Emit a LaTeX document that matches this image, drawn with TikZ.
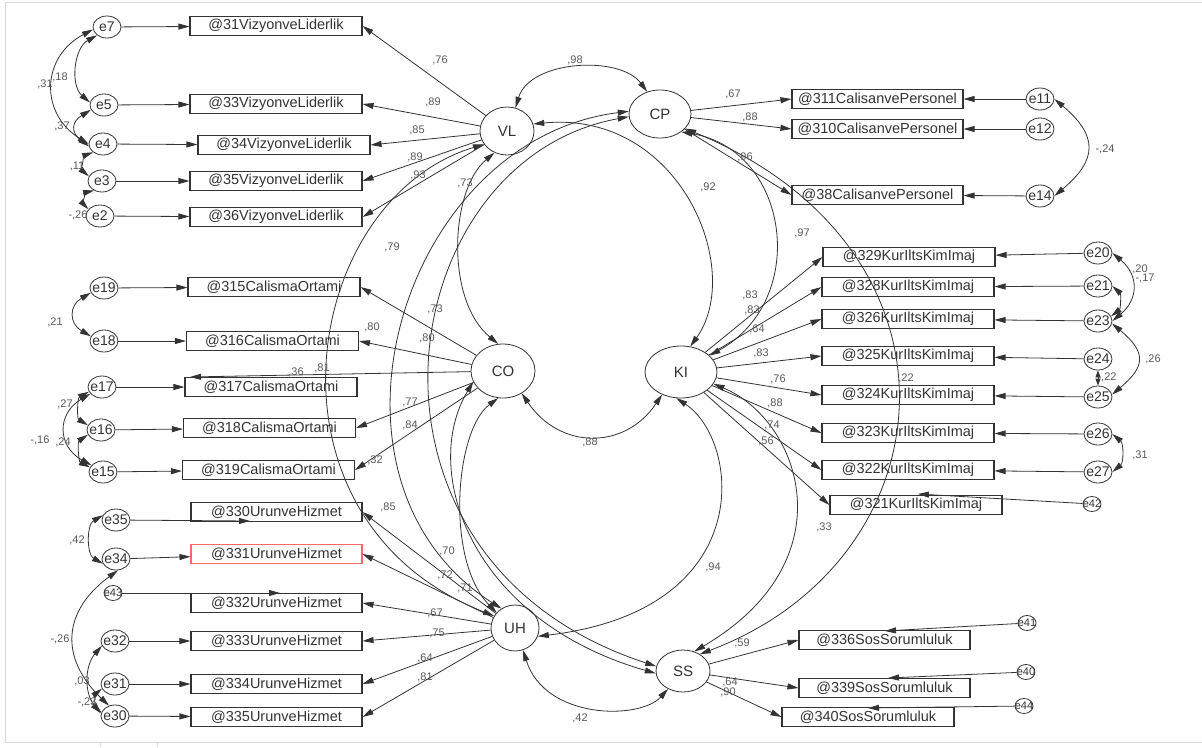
\documentclass[tikz,border=0pt]{standalone}
\usepackage{fontspec}
\setmainfont{Liberation Sans}
\usetikzlibrary{shapes.geometric,arrows.meta}

\begin{document}
\begin{tikzpicture}[x=1pt,y=-1pt,line width=0.8pt,color=black!80,
  tip/.style={-{Triangle[length=11pt,width=6pt]}},
  both/.style={{Triangle[length=11pt,width=6pt]}-{Triangle[length=11pt,width=6pt]}},
  lat/.style={ellipse,draw,inner sep=0pt,font=\fontsize{15}{15}\selectfont},
  obs/.style={draw,line width=1.1pt,minimum width=172pt,minimum height=19pt,inner sep=0pt,font=\fontsize{14.5}{15}\selectfont},
  err/.style={ellipse,draw,minimum width=28pt,minimum height=22pt,inner sep=0pt,label={[font=\fontsize{14}{14}\selectfont]center:#1}},
  serr/.style={ellipse,draw,minimum width=18pt,minimum height=15pt,inner sep=0pt,label={[font=\fontsize{11}{11}\selectfont]center:#1}},
  coef/.style={font=\fontsize{11}{11}\selectfont,text=black!65,inner sep=0pt}]
  \useasboundingbox (0,0) rectangle (1202,747);
  \draw[black!15,line width=1pt] (1202,2) -- (5,2) -- (5,742) -- (1202,742);
  \draw[black!15,line width=1pt] (100,742) -- (100,747) (157,742) -- (157,747);

  \node[lat,minimum width=54pt,minimum height=48pt] (VL) at (507,131) {VL};
  \node[lat,minimum width=62pt,minimum height=48pt] (CP) at (660,114) {CP};
  \node[lat,minimum width=64pt,minimum height=54pt] (CO) at (503,371) {CO};
  \node[lat,minimum width=72pt,minimum height=52pt] (KI) at (681,372) {KI};
  \node[lat,minimum width=48pt,minimum height=46pt] (UH) at (515,628) {UH};
  \node[lat,minimum width=54pt,minimum height=42pt] (SS) at (683,671) {SS};

  \node[obs] (v31) at (276,26) {@31VizyonveLiderlik};
  \node[obs] (v33) at (276,104) {@33VizyonveLiderlik};
  \node[obs] (v34) at (284,145) {@34VizyonveLiderlik};
  \node[obs] (v35) at (276,181) {@35VizyonveLiderlik};
  \node[obs] (v36) at (276,217) {@36VizyonveLiderlik};
  \node[obs,minimum width=171pt] (p311) at (877.5,99) {@311CalisanvePersonel};
  \node[obs,minimum width=171pt] (p310) at (877.5,129) {@310CalisanvePersonel};
  \node[obs,minimum width=171pt] (p38) at (877.5,195) {@38CalisanvePersonel};
  \node[obs] (k329) at (909,257) {@329KurIltsKimImaj};
  \node[obs] (k328) at (908,287) {@328KurIltsKimImaj};
  \node[obs] (k326) at (908,319) {@326KurIltsKimImaj};
  \node[obs] (k325) at (908,356) {@325KurIltsKimImaj};
  \node[obs] (k324) at (908,395) {@324KurIltsKimImaj};
  \node[obs] (k323) at (908,433) {@323KurIltsKimImaj};
  \node[obs] (k322) at (908,470) {@322KurIltsKimImaj};
  \node[obs] (k321) at (916,505) {@321KurIltsKimImaj};
  \node[obs] (o315) at (274,287) {@315CalismaOrtami};
  \node[obs] (o316) at (272.5,341) {@316CalismaOrtami};
  \node[obs] (o317) at (271,387) {@317CalismaOrtami};
  \node[obs] (o318) at (269.5,428) {@318CalismaOrtami};
  \node[obs] (o319) at (268.5,470) {@319CalismaOrtami};
  \node[obs,minimum width=171pt] (u330) at (276.5,512) {@330UrunveHizmet};
  \node[obs,minimum width=171pt,draw=red!60] (u331) at (276.5,554) {@331UrunveHizmet};
  \node[obs,minimum width=171pt] (u332) at (276.5,603) {@332UrunveHizmet};
  \node[obs,minimum width=171pt] (u333) at (276.5,641) {@333UrunveHizmet};
  \node[obs,minimum width=171pt] (u334) at (276.5,684) {@334UrunveHizmet};
  \node[obs,minimum width=171pt] (u335) at (276.5,717) {@335UrunveHizmet};
  \node[obs,minimum width=171pt] (s336) at (884.5,640) {@336SosSorumluluk};
  \node[obs,minimum width=171pt] (s339) at (884.5,688) {@339SosSorumluluk};
  \node[obs] (s340) at (868,717) {@340SosSorumluluk};

  \node[err=e7] (e7) at (107,27) {};
  \node[err=e5] (e5) at (104,105) {};
  \node[err=e4] (e4) at (103,144) {};
  \node[err=e3] (e3) at (102,181) {};
  \node[err=e2] (e2) at (100,216) {};
  \node[err=e11] (e11) at (1040,99) {};
  \node[err=e12] (e12) at (1040,129) {};
  \node[err=e14] (e14) at (1040,196) {};
  \node[err=e20] (e20) at (1098,253) {};
  \node[err=e21] (e21) at (1098,286) {};
  \node[err=e23] (e23) at (1098,321) {};
  \node[err=e24] (e24) at (1098,359) {};
  \node[err=e25] (e25) at (1098,397) {};
  \node[err=e26] (e26) at (1098,434) {};
  \node[err=e27] (e27) at (1098,472) {};
  \node[serr=e42] (e42) at (1092,504) {};
  \node[err=e19] (e19) at (104,288) {};
  \node[err=e18] (e18) at (104,341) {};
  \node[err=e17] (e17) at (102,387) {};
  \node[err=e16] (e16) at (101,430) {};
  \node[err=e15] (e15) at (103,472) {};
  \node[err=e35] (e35) at (116,520) {};
  \node[err=e34] (e34) at (116,559) {};
  \node[serr=e43] (e43) at (113,593) {};
  \node[err=e32] (e32) at (115,641) {};
  \node[err=e31] (e31) at (115,684) {};
  \node[err=e30] (e30) at (115,716) {};
  \node[serr=e41] (e41) at (1027,623) {};
  \node[serr=e40] (e40) at (1026,672) {};
  \node[serr=e44] (e44) at (1024,706) {};

  \coordinate (t317) at (190,377);
  \coordinate (t330) at (250,521);
  \coordinate (t332) at (280,593);
  \coordinate (t321) at (918,494);
  \coordinate (t336) at (885,631);
  \coordinate (t339) at (888,678);
  \coordinate (t340) at (868,708);

  \draw[tip] (VL) -- (v31.east);
  \draw[tip] (VL) -- (v33.east);
  \draw[tip] (VL) -- (v34.east);
  \draw[tip] (VL) -- (v35.east);
  \draw[tip] (VL) -- (v36.east);
  \draw[tip] (CP) -- (p311.west);
  \draw[tip] (CP) -- (p310.west);
  \draw[tip] (CP) -- (p38.west);
  \draw[tip] (KI) -- (k329.west);
  \draw[tip] (KI) -- (k328.west);
  \draw[tip] (KI) -- (k326.west);
  \draw[tip] (KI) -- (k325.west);
  \draw[tip] (KI) -- (k324.west);
  \draw[tip] (KI) -- (k323.west);
  \draw[tip] (KI) -- (k322.west);
  \draw[tip] (KI) -- (k321.west);
  \draw[tip] (CO) -- (o315.east);
  \draw[tip] (CO) -- (o316.east);
  \draw[tip] (CO) -- (t317);
  \draw[tip] (CO) -- (o318.east);
  \draw[tip] (CO) -- (o319.east);
  \draw[tip] (UH) -- (u330.east);
  \draw[tip] (UH) -- (u331.east);
  \draw[tip] (UH) -- (u332.east);
  \draw[tip] (UH) -- (u333.east);
  \draw[tip] (UH) -- (u334.east);
  \draw[tip] (UH) -- (u335.east);
  \draw[tip] (SS) -- (s336.west);
  \draw[tip] (SS) -- (s339.west);
  \draw[tip] (SS) -- (s340.west);

  \draw[tip] (e7) -- (v31);
  \draw[tip] (e5) -- (v33);
  \draw[tip] (e4) -- (v34);
  \draw[tip] (e3) -- (v35);
  \draw[tip] (e2) -- (v36);
  \draw[tip] (e11) -- (p311);
  \draw[tip] (e12) -- (p310);
  \draw[tip] (e14) -- (p38);
  \draw[tip] (e20) -- (k329);
  \draw[tip] (e21) -- (k328);
  \draw[tip] (e23) -- (k326);
  \draw[tip] (e24) -- (k325);
  \draw[tip] (e25) -- (k324);
  \draw[tip] (e26) -- (k323);
  \draw[tip] (e27) -- (k322);
  \draw[tip] (e42) -- (t321);
  \draw[tip] (e19) -- (o315);
  \draw[tip] (e18) -- (o316);
  \draw[tip] (e17) -- (o317);
  \draw[tip] (e16) -- (o318);
  \draw[tip] (e15) -- (o319);
  \draw[tip] (e35) -- (t330);
  \draw[tip] (e34) -- (u331);
  \draw[tip] (e43) -- (t332);
  \draw[tip] (e32) -- (u333);
  \draw[tip] (e31) -- (u334);
  \draw[tip] (e30) -- (u335);
  \draw[tip] (e41) -- (t336);
  \draw[tip] (e40) -- (t339);
  \draw[tip] (e44) -- (t340);

  \draw[both] (e7.190) to[bend right=60,looseness=1.3] (e4.180);
  \draw[both] (e7.220) to[bend right=55] (e5.170);
  \draw[both] (e5.200) to[bend right=55,looseness=1.6] (e4.190);
  \draw[both] (e4.220) to[bend right=60] (e3.160);
  \draw[both] (e3.230) to[bend right=60] (e2.150);
  \draw[both] (e11.east) to[bend left=50,looseness=1.5] (e14.east);
  \draw[both] (e20.east) to[bend left=50,looseness=1.3] (e23.east);
  \draw[both] (e21.east) to[bend left=50] (e23.20);
  \draw[both] (e23.-10) to[bend left=50,looseness=1.6] (e25.10);
  \draw[{Triangle[length=7pt,width=5pt]}-{Triangle[length=7pt,width=5pt]}] (e24.south) -- (e25.north);
  \draw[both] (e26.east) to[bend left=50] (e27.east);
  \draw[both] (e19.200) to[bend right=60,looseness=1.5] (e18.160);
  \draw[both] (e17.200) to[bend right=60] (e16.160);
  \draw[both] (e16.200) to[bend right=60] (e15.160);
  \draw[both] (e17.210) to[bend right=60,looseness=1.4] (e15.150);
  \draw[both] (e35.160) to[bend right=60] (e34.200);
  \draw[both] (e34.-80) to[bend right=50,looseness=1.3] (e30.120);
  \draw[both] (e32.200) to[bend right=40] (e30.170);
  \draw[both] (e31.200) to[bend right=50] (e30.165);

  \draw[both] (VL.70) .. controls (530,60) and (620,55) .. (CP.120);
  \draw[both] (VL.15) .. controls (680,110) and (745,270) .. (KI.70);
  \draw[both] (CP.-40) .. controls (790,150) and (810,300) .. (KI.30);
  \draw[both] (CP.-30) .. controls (980,250) and (950,560) .. (SS.45);
  \draw[both] (KI.-20) .. controls (800,420) and (850,560) .. (SS.60);
  \draw[both] (CO.-50) .. controls (560,450) and (625,450) .. (KI.-130);
  \draw[both] (KI.-100) .. controls (740,440) and (760,610) .. (UH.-20);
  \draw[both] (UH.-70) .. controls (545,720) and (640,720) .. (SS.-130);
  \draw[both] (CO.-100) .. controls (455,430) and (445,560) .. (UH.140);
  \draw[both] (VL.-120) .. controls (450,190) and (445,300) .. (CO.100);
  \draw[both] (VL.210) .. controls (300,200) and (250,520) .. (UH.150);
  \draw[both] (CP.175) .. controls (400,140) and (300,480) .. (UH.125);
  \draw[both] (CP.185) .. controls (390,160) and (330,560) .. (SS.170);
  \draw[both] (CO.200) .. controls (420,470) and (470,620) .. (SS.185);

  \node[coef] (wv31) at (440,60) {,76};
  \node[coef] (wv33) at (433,102) {,89};
  \node[coef] (wv34) at (417,130) {,85};
  \node[coef] (wv35) at (415,157) {,89};
  \node[coef] (wv36) at (418,175) {,93};
  \node[coef] (rVLCO) at (465,183) {,73};
  \node[coef] (rVLUH) at (392,247) {,79};
  \node[coef] (rVLCP) at (575,60) {,98};
  \node[coef] (rVLKI) at (708,187) {,92};
  \node[coef] (rCPKI) at (802,233) {,97};
  \node[coef] (wp311) at (733,94) {,67};
  \node[coef] (wp310) at (750,117) {,88};
  \node[coef] (wp38) at (745,157) {,96};
  \node[coef] (r1114) at (1105,149) {-,24};
  \node[coef] (wk329) at (750,295) {,83};
  \node[coef] (wk328) at (752,310) {,83};
  \node[coef] (wk326) at (757,329) {,64};
  \node[coef] (wk325) at (761,353) {,83};
  \node[coef] (wk324) at (778,379) {,76};
  \node[coef] (wk323) at (775,403) {,88};
  \node[coef] (wk322) at (772,425) {,74};
  \node[coef] (wk321) at (766,441) {,56};
  \node[coef] (r2023) at (1140,269) {,20};
  \node[coef] (r2123) at (1145,278) {-,17};
  \node[coef] (r2325) at (1153,359) {,26};
  \node[coef] (r2425) at (1107,377) {-,22};
  \node[coef] (r2627) at (1140,455) {,31};
  \node[coef] (rk22) at (906,378) {,22};
  \node[coef] (wo315) at (435,309) {,73};
  \node[coef] (wo316) at (427,338) {,80};
  \node[coef] (rCO80) at (372,327) {,80};
  \node[coef] (wo317) at (322,368) {,81};
  \node[coef] (rCO36) at (296,372) {,36};
  \node[coef] (wo318) at (410,402) {,77};
  \node[coef] (wo319) at (410,425) {,84};
  \node[coef] (rCO32) at (375,460) {,32};
  \node[coef] (rCOKI) at (590,442) {,88};
  \node[coef] (r1918) at (55,322) {,21};
  \node[coef] (r1716) at (65,404) {,27};
  \node[coef] (r1715) at (40,440) {-,16};
  \node[coef] (r1615) at (63,442) {,24};
  \node[coef] (r0704) at (45,84) {,31};
  \node[coef] (r0705) at (60,77) {,18};
  \node[coef] (r0504) at (62,126) {,37};
  \node[coef] (r0403) at (77,166) {,11};
  \node[coef] (r0302) at (78,215) {-,26};
  \node[coef] (wu330) at (388,507) {,85};
  \node[coef] (rUH70) at (447,551) {,70};
  \node[coef] (wu331) at (445,575) {,72};
  \node[coef] (rUH71) at (465,588) {,71};
  \node[coef] (wu332) at (435,613) {,67};
  \node[coef] (wu333) at (437,633) {,75};
  \node[coef] (wu334) at (425,658) {,64};
  \node[coef] (wu335) at (425,677) {,81};
  \node[coef] (rKIUH) at (713,567) {,94};
  \node[coef] (rKISS) at (824,527) {,33};
  \node[coef] (rUHSS) at (580,718) {,42};
  \node[coef] (ws336) at (742,643) {,59};
  \node[coef] (ws339) at (730,682) {,64};
  \node[coef] (ws340) at (728,692) {,90};
  \node[coef] (r3534) at (77,540) {,42};
  \node[coef] (r3430) at (60,639) {-,26};
  \node[coef] (r3230) at (82,681) {,03};
  \node[coef] (r3130) at (87,702) {-,23};
\end{tikzpicture}
\end{document}
